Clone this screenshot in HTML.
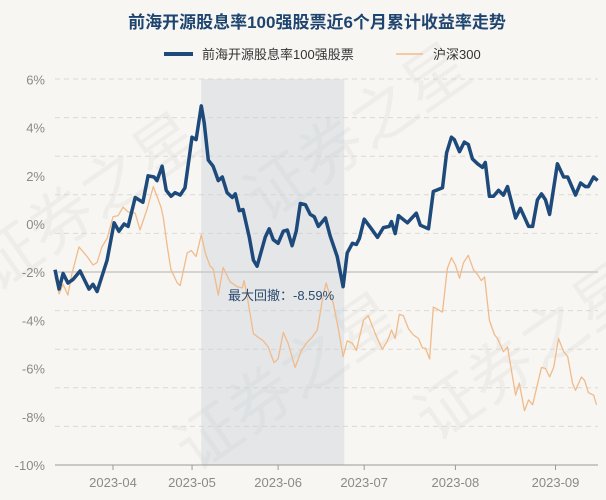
<!DOCTYPE html>
<html><head><meta charset="utf-8">
<style>
html,body{margin:0;padding:0;background:#f8f6f2;overflow:hidden;width:606px;height:500px;}
#wrap{position:relative;width:606px;height:500px;overflow:hidden;background:#f8f6f2;font-family:"Liberation Sans","Noto Sans CJK SC",sans-serif;}
svg{position:absolute;left:0;top:0;display:block;}
</style></head>
<body>
<div id="wrap">
<svg id="chart" width="606" height="500" viewBox="0 0 606 500" overflow="hidden"></svg>
</div>
<script>
// ---- data ----
const tickLabels = ["2023-04","2023-05","2023-06","2023-07","2023-08","2023-09"];
const tickIdx = [15.7,37.1,60.4,83.7,108.4,135.5];
const yTicks = [6,4,2,0,-2,-4,-6,-8,-10];
const fundIdx = [0,1.1,2.2,3.5,4.9,6.8,9.2,10.3,11.4,14.1,16,17.3,18.7,19.8,21.7,23.8,25.2,26.8,27.6,29,30.1,31.4,32.5,33.9,35.2,37.1,38.2,39.6,40.4,41.5,42.8,44.2,45.3,46.6,48,48.8,49.9,50.9,52.6,53.7,54.7,56.9,58,59.1,60.4,61.8,62.9,64.2,65.3,66.4,67.8,69.1,70.2,71.3,73.2,74.5,76.4,78,79.1,80.5,81.6,82.4,83.7,85.4,87.3,88.9,90.5,91.1,92.1,93,95.4,97.8,98.9,101.1,102.4,104.9,106,107.3,108.1,109.5,110.8,111.9,113,114.4,115.7,116.5,117.6,118.7,120.1,121.4,122.5,124.7,126,128.2,129.3,130.6,131.7,132.8,133.9,136,137.7,138.8,140.9,142.3,143.6,144.4,145.8,146.9];
const fundVals = [-1.9,-2.7,-2.05,-2.45,-2.3,-1.95,-2.7,-2.5,-2.8,-1.5,0.05,-0.3,0,-0.1,1.1,0.9,2.0,1.95,1.8,2.4,1.4,1.15,1.3,1.2,1.5,3.6,3.5,4.9,4.2,2.65,2.4,1.8,1.95,1.3,1.1,1.25,0.55,0.6,-0.55,-1.5,-1.75,-0.55,-0.2,-0.65,-0.8,-0.3,-0.25,-0.9,-0.3,0.85,0.8,0.4,0.3,-0.1,0.25,-0.5,-1.35,-2.6,-1.2,-0.8,-0.85,-0.6,0.2,-0.15,-0.55,-0.15,-0.1,0.1,-0.4,0.35,0.05,0.45,-0.05,-0.2,1.35,1.5,2.95,3.6,3.5,3.0,3.4,3.3,2.7,2.5,2.35,2.55,1.15,1.15,1.4,1.2,1.55,0.25,0.65,-0.1,-0.1,1.0,1.25,1.0,0.4,2.5,1.95,1.95,1.2,1.7,1.55,1.55,1.95,1.8];
const hsIdx = [0,1.1,2.2,3.5,4.6,6.5,8.7,10.3,11.4,12.7,14.1,15.7,17.1,18.4,19.8,21.7,23,24.9,26.6,27.6,28.7,29.3,30.4,31.4,33.1,33.9,35.8,36.9,38.2,39.6,40.7,42,42.8,44.2,45.5,47.4,49.3,50.7,51.2,52.3,53.7,55,56.4,57.7,59.3,60.4,61.8,63.1,65,66.7,68.3,69.6,71,72.4,73.4,74.5,75.3,76.7,78,79.1,80.5,81.6,83.5,84.8,86.7,88.6,90,91.1,92.1,93.2,94.3,95.7,97,98.4,99.5,100.3,101.4,102.4,104.9,106.2,107.3,108.4,109.5,110.6,111.9,113.3,114.4,115.4,116.3,117.6,119,119.8,121.4,122.5,124.7,125.7,127.1,128.2,129.3,131.7,132.8,133.9,135,136.3,137.7,138.8,140.1,140.9,142.5,143.4,144.4,145.8,146.6];
const hsVals = [-2.2,-2.9,-2.5,-2.95,-2.05,-0.95,-1.35,-1.7,-1.6,-0.95,-0.6,0.3,0.35,0.7,0.5,0.45,-0.25,0.6,1.55,1.15,0.7,0.3,-0.95,-1.9,-2.45,-2.55,-1.2,-1.1,-1.35,-0.45,-1.2,-1.75,-1.85,-2.95,-1.8,-2.4,-2.6,-2.65,-2.35,-3.25,-4.55,-4.7,-4.85,-5.1,-5.75,-5.6,-4.5,-4.95,-5.95,-5.25,-4.9,-4.7,-4.4,-3.15,-2.45,-3.0,-3.25,-4.35,-5.5,-4.85,-4.95,-5.25,-4.0,-3.8,-4.55,-5.2,-4.85,-4.4,-4.75,-3.75,-3.8,-4.35,-4.6,-4.75,-5.15,-5.15,-5.6,-3.45,-3.65,-1.85,-1.4,-1.7,-2.25,-1.6,-1.3,-1.9,-2.1,-2.35,-2.2,-4.0,-4.6,-4.75,-5.3,-5.1,-7.1,-6.6,-7.75,-7.3,-7.5,-5.95,-6.0,-6.35,-5.95,-4.75,-5.3,-5.5,-6.6,-6.9,-6.35,-6.5,-7.0,-7.1,-7.5];
const drawdownRange = [39.6, 78.3];
const drawdownText = "最大回撤：-8.59%";

// ---- axes ----
const X0=55, X1=598, IDXMAX=147;
const xs = i => X0 + (X1-X0)*i/IDXMAX;
const ys = v => 224 - v*24.1;
const NS="http://www.w3.org/2000/svg";
const svg=document.getElementById('chart');
function mk(tag, attrs, parent){const e=document.createElementNS(NS,tag);for(const k in attrs)e.setAttribute(k,attrs[k]);(parent||svg).appendChild(e);return e;}

// watermark
const wm=[[100,220],[370,150],[300,400],[540,370]];
wm.forEach(w=>{const t=mk('text',{x:w[0],y:w[1],'font-size':64,fill:'#000','fill-opacity':0.035,'text-anchor':'middle',transform:`rotate(-35 ${w[0]} ${w[1]})`,'font-family':'"Noto Sans CJK SC",sans-serif'});


t.textContent='证券之星';});

// title
const title=mk('text',{x:317,y:28,'text-anchor':'middle','font-size':17,'font-weight':'bold',fill:'#1e4470'});


title.textContent='前海开源股息率100强股票近6个月累计收益率走势';

// legend
const lg1=mk('g',{});


mk('line',{x1:164,y1:54,x2:193,y2:54,stroke:'#1d4a7a','stroke-width':4},lg1);
const lt1=mk('text',{x:202,y:59,'font-size':13,fill:'#333'},lg1);lt1.textContent='前海开源股息率100强股票';
const lg2=mk('g',{});


mk('line',{x1:396,y1:54,x2:423,y2:54,stroke:'#f0bb8a','stroke-width':1.5},lg2);
const lt2=mk('text',{x:433,y:59,'font-size':13,fill:'#333'},lg2);lt2.textContent='沪深300';

// grid lines
for(let k=0;k<10;k++){const y=79+k*38.6;
 const g=mk('line',{x1:X0,x2:X1,y1:y,y2:y,stroke:k===5?'#d6d3cf':'#dcd9d5','stroke-width':k===5?2:1,'stroke-dasharray':k===5?'':'5,4'});
 
 }

// y labels
yTicks.forEach(v=>{const t=mk('text',{x:45,y:ys(v)+5,'text-anchor':'end','font-size':13,fill:'#8a8a8a'});


t.textContent=v+'%';});

// drawdown shade
const sh=mk('rect',{x:xs(drawdownRange[0]),y:79,width:xs(drawdownRange[1])-xs(drawdownRange[0]),height:465-79,fill:'#c5cfd9','fill-opacity':0.4});



// x axis
const ax=mk('line',{x1:X0,x2:X1,y1:465,y2:465,stroke:'#999','stroke-width':1});


tickIdx.forEach((ti,k)=>{const x=xs(ti);
 const tk=mk('line',{x1:x,x2:x,y1:465,y2:470,stroke:'#999'});
 
 
 const t=mk('text',{x:x,y:487,'text-anchor':'middle','font-size':13,fill:'#8a8a8a'});
 
 
 t.textContent=tickLabels[k];});

// series
function path(idx,vals){return idx.map((i,k)=>(k?'L':'M')+xs(i).toFixed(1)+','+ys(vals[k]).toFixed(1)).join(' ');}
const hs=mk('path',{d:path(hsIdx,hsVals),fill:'none',stroke:'#f0bb8a','stroke-width':1.3,'stroke-linejoin':'round'});


const fd=mk('path',{d:path(fundIdx,fundVals),fill:'none',stroke:'#1d4a7a','stroke-width':3.5,'stroke-linejoin':'round'});



// annotation
const an=mk('text',{x:228,y:300,'font-size':13,fill:'#2c4a6e'});


an.textContent=drawdownText;
</script>
</body></html>
